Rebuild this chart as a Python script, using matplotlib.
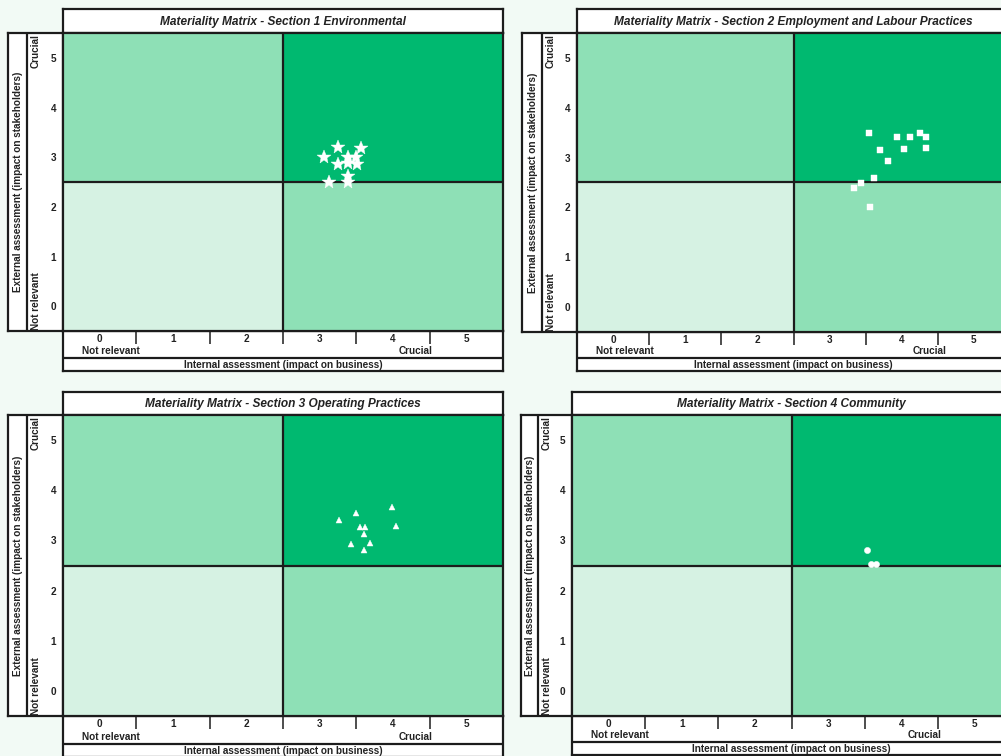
import matplotlib
matplotlib.use('Agg')
import matplotlib.pyplot as plt
from matplotlib.patches import Rectangle

plt.rcParams['font.family'] = ['Liberation Sans', 'DejaVu Sans']

W, H = 1001, 756

# ---------------- data ----------------
titles = [
    'Materiality Matrix - Section 1 Environmental',
    'Materiality Matrix - Section 2 Employment and Labour Practices',
    'Materiality Matrix - Section 3 Operating Practices',
    'Materiality Matrix - Section 4 Community',
]
tick_values = [0, 1, 2, 3, 4, 5]
tick_labels = ['0', '1', '2', '3', '4', '5']
low_label = 'Not relevant'
high_label = 'Crucial'
x_axis_label = 'Internal assessment (impact on business)'
y_axis_label = 'External assessment (impact on stakeholders)'

env_x = [3.25, 3.56, 3.06, 3.38, 3.50, 3.25, 3.38, 3.51, 3.38, 3.13, 3.38]
env_y = [3.21, 3.19, 3.00, 3.00, 3.00, 2.86, 2.88, 2.86, 2.63, 2.50, 2.50]

emp_x = [3.55, 3.93, 4.11, 4.25, 4.34, 3.70, 4.03, 4.34, 3.81, 3.62, 3.43, 3.34, 3.56]
emp_y = [3.49, 3.41, 3.41, 3.49, 3.41, 3.15, 3.17, 3.19, 2.94, 2.60, 2.49, 2.38, 2.00]

ops_x = [3.98, 3.50, 3.27, 4.04, 3.55, 3.62, 3.61, 3.69, 3.43, 3.60]
ops_y = [3.66, 3.54, 3.41, 3.28, 3.26, 3.26, 3.12, 2.94, 2.92, 2.81]

com_x = [3.53, 3.59, 3.65]
com_y = [2.81, 2.52, 2.52]

# ---------------- style ----------------
DARK = '#00b970'
MID = '#8ee0b6'
LIGHT = '#d6f2e3'
LINE = '#1c1c1c'
TXT = '#222222'
LW = 1.6
FS = 7.2

fig = plt.figure(figsize=(W / 100, H / 100), dpi=100)
fig.patch.set_facecolor('#f2faf5')


def px_axes(x0, y0, x1, y1, zorder):
    return fig.add_axes([x0 / W, 1 - y1 / H, (x1 - x0) / W, (y1 - y0) / H], zorder=zorder)


def box(x0, y0, x1, y1):
    ax = px_axes(x0, y0, x1, y1, 1)
    ax.set_xlim(x0, x1)
    ax.set_ylim(y1, y0)
    ax.set_facecolor('white')
    ax.set_xticks([])
    ax.set_yticks([])
    for s in ax.spines.values():
        s.set_linewidth(LW)
        s.set_color(LINE)
    return ax


def panel(L, T, R, B, lx0, lxd, tt, bb, bd, title, xs, ys, marker, ms):
    # title box
    tb = box(L, tt, R, T)
    tb.text((L + R) / 2, (tt + T) / 2 + 0.5, title, ha='center', va='center',
            fontsize=8.6, fontweight='bold', fontstyle='italic', color=TXT)
    # left label box
    lb = box(lx0, T, L, B)
    lb.plot([lxd, lxd], [T, B], color=LINE, lw=LW)
    lb.text((lx0 + lxd) / 2 + 0.5, (T + B) / 2, y_axis_label, rotation=90,
            ha='center', va='center', fontsize=FS, fontweight='bold', color=TXT)
    lb.text(lxd + 9, T + 1.5, high_label, rotation=90, ha='center', va='top',
            fontsize=FS, fontweight='bold', color=TXT)
    lb.text(lxd + 9, B - 1, low_label, rotation=90, ha='center', va='bottom',
            fontsize=FS, fontweight='bold', color=TXT)
    # bottom label box
    bx = box(L, B, R, bb)
    bx.plot([L, R], [bd, bd], color=LINE, lw=LW)
    bx.text(L + 48, bd - 7, low_label, ha='center', va='center',
            fontsize=FS, fontweight='bold', color=TXT)
    bx.text(L + 353, bd - 7, high_label, ha='center', va='center',
            fontsize=FS, fontweight='bold', color=TXT)
    bx.text((L + R) / 2, (bd + bb) / 2 + 0.5, x_axis_label, ha='center', va='center',
            fontsize=FS, fontweight='bold', color=TXT)

    # main plot
    ax = px_axes(L, T, R, B, 2)
    ax.set_xlim(-0.5, 5.5)
    ax.set_ylim(-0.5, 5.5)
    ax.set_facecolor('none')
    ax.add_patch(Rectangle((-0.5, -0.5), 3, 3, facecolor=LIGHT, edgecolor='none', zorder=0))
    ax.add_patch(Rectangle((2.5, -0.5), 3, 3, facecolor=MID, edgecolor='none', zorder=0))
    ax.add_patch(Rectangle((-0.5, 2.5), 3, 3, facecolor=MID, edgecolor='none', zorder=0))
    ax.add_patch(Rectangle((2.5, 2.5), 3, 3, facecolor=DARK, edgecolor='none', zorder=0))
    ax.axvline(2.5, color=LINE, lw=LW, zorder=1)
    ax.axhline(2.5, color=LINE, lw=LW, zorder=1)
    for s in ax.spines.values():
        s.set_linewidth(LW)
        s.set_color(LINE)
        s.set_zorder(3)

    ax.set_xticks(tick_values)
    ax.set_xticklabels(tick_labels)
    ax.set_yticks(tick_values)
    ax.set_yticklabels(tick_labels)
    ax.set_xticks([v + 0.5 for v in tick_values[:-1]], minor=True)
    ax.tick_params(axis='both', which='major', length=0, labelsize=FS, labelcolor=TXT)
    ax.tick_params(axis='x', which='major', pad=2.5)
    ax.tick_params(axis='y', which='major', pad=5)
    ax.tick_params(axis='x', which='minor', direction='out', length=9.5, width=1.1, color=LINE)
    for lab in ax.get_xticklabels() + ax.get_yticklabels():
        lab.set_fontweight('bold')

    ax.plot(xs, ys, linestyle='none', marker=marker, markersize=ms,
            color='white', markeredgecolor='white', markeredgewidth=0.3, zorder=4)
    return ax


panel(63, 33, 503, 331, 8, 27, 9, 371, 358, titles[0], env_x, env_y, '*', 10)
panel(577, 33, 1010, 332, 522, 542, 9, 371, 358, titles[1], emp_x, emp_y, 's', 5)
panel(63, 415, 503, 716, 8, 27, 392, 757, 744, titles[2], ops_x, ops_y, '^', 4.5)
panel(572, 415, 1011, 716, 521, 538, 392, 755, 742, titles[3], com_x, com_y, 'o', 4.5)

fig.savefig('out.png', dpi=100, facecolor=fig.get_facecolor())
